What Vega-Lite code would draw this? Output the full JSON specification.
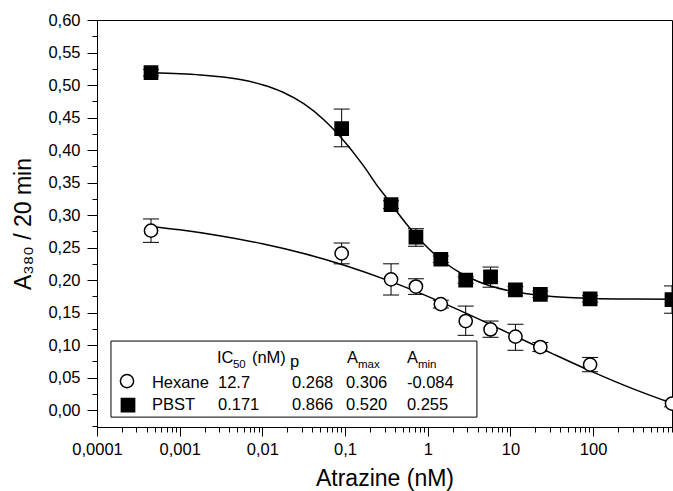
{
  "$schema": "https://vega.github.io/schema/vega-lite/v6.json",
  "width": 575,
  "height": 407,
  "autosize": {"type": "none"},
  "padding": {"left": 97, "top": 20, "right": 1, "bottom": 64},
  "datasets": {
    "points": [
      {"series": "Hexane", "x": 0.00045, "y": 0.276, "lo": 0.258, "hi": 0.294},
      {"series": "Hexane", "x": 0.091, "y": 0.241, "lo": 0.225, "hi": 0.257},
      {"series": "Hexane", "x": 0.36, "y": 0.201, "lo": 0.177, "hi": 0.225},
      {"series": "Hexane", "x": 0.72, "y": 0.190, "lo": 0.178, "hi": 0.202},
      {"series": "Hexane", "x": 1.44, "y": 0.163, "lo": 0.157, "hi": 0.169},
      {"series": "Hexane", "x": 2.88, "y": 0.137, "lo": 0.115, "hi": 0.160},
      {"series": "Hexane", "x": 5.75, "y": 0.124, "lo": 0.112, "hi": 0.137},
      {"series": "Hexane", "x": 11.5, "y": 0.113, "lo": 0.092, "hi": 0.132},
      {"series": "Hexane", "x": 23, "y": 0.097, "lo": 0.090, "hi": 0.104},
      {"series": "Hexane", "x": 92, "y": 0.070, "lo": 0.059, "hi": 0.081},
      {"series": "Hexane", "x": 900, "y": 0.010, "lo": 0.005, "hi": 0.015},
      {"series": "PBST", "x": 0.00045, "y": 0.519, "lo": 0.514, "hi": 0.524},
      {"series": "PBST", "x": 0.091, "y": 0.433, "lo": 0.405, "hi": 0.463},
      {"series": "PBST", "x": 0.36, "y": 0.316, "lo": 0.310, "hi": 0.322},
      {"series": "PBST", "x": 0.72, "y": 0.266, "lo": 0.252, "hi": 0.279},
      {"series": "PBST", "x": 1.44, "y": 0.232, "lo": 0.227, "hi": 0.237},
      {"series": "PBST", "x": 2.88, "y": 0.200, "lo": 0.195, "hi": 0.205},
      {"series": "PBST", "x": 5.75, "y": 0.205, "lo": 0.189, "hi": 0.220},
      {"series": "PBST", "x": 11.5, "y": 0.185, "lo": 0.180, "hi": 0.190},
      {"series": "PBST", "x": 23, "y": 0.178, "lo": 0.173, "hi": 0.183},
      {"series": "PBST", "x": 92, "y": 0.171, "lo": 0.166, "hi": 0.176},
      {"series": "PBST", "x": 900, "y": 0.170, "lo": 0.149, "hi": 0.191}
    ],
    "curves": [
      {"series": "PBST", "x": 0.00045, "y": 0.5187},
      {"series": "PBST", "x": 0.001, "y": 0.5173},
      {"series": "PBST", "x": 0.001778, "y": 0.5155},
      {"series": "PBST", "x": 0.003162, "y": 0.5127},
      {"series": "PBST", "x": 0.005623, "y": 0.508},
      {"series": "PBST", "x": 0.01, "y": 0.5005},
      {"series": "PBST", "x": 0.01778, "y": 0.4889},
      {"series": "PBST", "x": 0.03162, "y": 0.4712},
      {"series": "PBST", "x": 0.05623, "y": 0.4458},
      {"series": "PBST", "x": 0.1, "y": 0.4119},
      {"series": "PBST", "x": 0.1334, "y": 0.3922},
      {"series": "PBST", "x": 0.1778, "y": 0.371},
      {"series": "PBST", "x": 0.2371, "y": 0.3475},
      {"series": "PBST", "x": 0.3162, "y": 0.327},
      {"series": "PBST", "x": 0.4217, "y": 0.3054},
      {"series": "PBST", "x": 0.5623, "y": 0.2851},
      {"series": "PBST", "x": 0.7499, "y": 0.2664},
      {"series": "PBST", "x": 1, "y": 0.2498},
      {"series": "PBST", "x": 1.334, "y": 0.2352},
      {"series": "PBST", "x": 1.778, "y": 0.2228},
      {"series": "PBST", "x": 2.371, "y": 0.2125},
      {"series": "PBST", "x": 3.162, "y": 0.2039},
      {"series": "PBST", "x": 5.623, "y": 0.1912},
      {"series": "PBST", "x": 10, "y": 0.1831},
      {"series": "PBST", "x": 17.78, "y": 0.178},
      {"series": "PBST", "x": 31.62, "y": 0.1749},
      {"series": "PBST", "x": 100, "y": 0.1718},
      {"series": "PBST", "x": 316.2, "y": 0.1707},
      {"series": "PBST", "x": 900, "y": 0.1703},
      {"series": "Hexane", "x": 0.00045, "y": 0.2825},
      {"series": "Hexane", "x": 0.001, "y": 0.2773},
      {"series": "Hexane", "x": 0.003162, "y": 0.2679},
      {"series": "Hexane", "x": 0.01, "y": 0.2559},
      {"series": "Hexane", "x": 0.03162, "y": 0.2409},
      {"series": "Hexane", "x": 0.1, "y": 0.2224},
      {"series": "Hexane", "x": 0.3162, "y": 0.2003},
      {"series": "Hexane", "x": 1, "y": 0.175},
      {"series": "Hexane", "x": 3.162, "y": 0.1469},
      {"series": "Hexane", "x": 10, "y": 0.1172},
      {"series": "Hexane", "x": 31.62, "y": 0.0873},
      {"series": "Hexane", "x": 100, "y": 0.0584},
      {"series": "Hexane", "x": 316.2, "y": 0.0318},
      {"series": "Hexane", "x": 900, "y": 0.0104}
    ],
    "legbox": [
      {"x1": 0.0001476, "x2": 3.936, "y1": -0.0108, "y2": 0.1062}
    ],
    "legsym": [
      {"series": "Hexane", "lx": 0.0002306, "ly": 0.0446},
      {"series": "PBST", "lx": 0.0002371, "ly": 0.0077}
    ],
    "legtext": [
      {"kind": "main", "t": "IC", "lx": 0.002825, "ly": 0.0723},
      {"kind": "main", "t": "(nM)", "lx": 0.007482, "ly": 0.0723},
      {"kind": "main", "t": "p", "lx": 0.02158, "ly": 0.0662},
      {"kind": "main", "t": "A", "lx": 0.1054, "ly": 0.0723},
      {"kind": "main", "t": "A", "lx": 0.5598, "ly": 0.0723},
      {"kind": "main", "t": "Hexane", "lx": 0.000462, "ly": 0.0338},
      {"kind": "main", "t": "12.7", "lx": 0.002904, "ly": 0.0338},
      {"kind": "main", "t": "0.268", "lx": 0.02281, "ly": 0.0338},
      {"kind": "main", "t": "0.306", "lx": 0.1026, "ly": 0.0338},
      {"kind": "main", "t": "-0.084", "lx": 0.5598, "ly": 0.0338},
      {"kind": "main", "t": "PBST", "lx": 0.000462, "ly": 0.0},
      {"kind": "main", "t": "0.171", "lx": 0.002904, "ly": 0.0},
      {"kind": "main", "t": "0.866", "lx": 0.02281, "ly": 0.0},
      {"kind": "main", "t": "0.520", "lx": 0.1026, "ly": 0.0},
      {"kind": "main", "t": "0.255", "lx": 0.5598, "ly": 0.0},
      {"kind": "sub", "t": "50", "lx": 0.004409, "ly": 0.0646},
      {"kind": "sub", "t": "max", "lx": 0.1432, "ly": 0.0646},
      {"kind": "sub", "t": "min", "lx": 0.7603, "ly": 0.0646}
    ]
  },
  "layer": [
    {
      "data": {"name": "legbox"},
      "mark": {"type": "rect", "fill": "white", "stroke": "black", "strokeWidth": 1},
      "encoding": {
        "x": {"field": "x1", "type": "quantitative", "scale": {"type": "log", "domain": [0.0001, 900], "nice": false}, "axis": null},
        "x2": {"field": "x2"},
        "y": {"field": "y1", "type": "quantitative", "scale": {"domain": [-0.026, 0.6], "nice": false, "zero": false}, "axis": null},
        "y2": {"field": "y2"}
      }
    },
    {
      "data": {"name": "points"},
      "mark": {"type": "rule", "color": "black", "strokeWidth": 1},
      "encoding": {
        "x": {"field": "x", "type": "quantitative", "scale": {"type": "log", "domain": [0.0001, 900], "nice": false}, "axis": null},
        "y": {"field": "lo", "type": "quantitative", "scale": {"domain": [-0.026, 0.6], "nice": false, "zero": false}, "axis": null},
        "y2": {"field": "hi"}
      }
    },
    {
      "data": {"name": "points"},
      "mark": {"type": "tick", "orient": "horizontal", "size": 16, "thickness": 1, "color": "black", "opacity": 1},
      "encoding": {
        "x": {"field": "x", "type": "quantitative", "scale": {"type": "log", "domain": [0.0001, 900], "nice": false}, "axis": null},
        "y": {"field": "lo", "type": "quantitative", "scale": {"domain": [-0.026, 0.6], "nice": false, "zero": false}, "axis": null}
      }
    },
    {
      "data": {"name": "points"},
      "mark": {"type": "tick", "orient": "horizontal", "size": 16, "thickness": 1, "color": "black", "opacity": 1},
      "encoding": {
        "x": {"field": "x", "type": "quantitative", "scale": {"type": "log", "domain": [0.0001, 900], "nice": false}, "axis": null},
        "y": {"field": "hi", "type": "quantitative", "scale": {"domain": [-0.026, 0.6], "nice": false, "zero": false}, "axis": null}
      }
    },
    {
      "data": {"name": "curves"},
      "mark": {"type": "line", "color": "black", "strokeWidth": 1.5, "interpolate": "monotone"},
      "encoding": {
        "x": {
          "field": "x", "type": "quantitative",
          "scale": {"type": "log", "domain": [0.0001, 900], "nice": false},
          "axis": {
            "orient": "bottom",
            "values": [0.0001, 0.001, 0.01, 0.1, 1, 10, 100],
            "labelExpr": "replace(format(datum.value, '~g'), '.', ',')",
            "tickSize": 9,
            "labelPadding": 5,
            "title": "Atrazine (nM)",
            "titlePadding": 10,
            "grid": false,
            "domain": true,
            "labelFlush": false,
            "labelOverlap": false
          }
        },
        "y": {
          "field": "y", "type": "quantitative",
          "scale": {"domain": [-0.026, 0.6], "nice": false, "zero": false},
          "axis": {
            "orient": "left",
            "values": [0, 0.05, 0.1, 0.15, 0.2, 0.25, 0.3, 0.35, 0.4, 0.45, 0.5, 0.55, 0.6],
            "labelExpr": "replace(format(datum.value, '.2f'), '.', ',')",
            "tickSize": 10,
            "labelPadding": 7,
            "title": "A₃₈₀ / 20 min",
            "titlePadding": 12,
            "grid": false,
            "domain": true,
            "labelFlush": false,
            "labelOverlap": false
          }
        },
        "detail": {"field": "series"}
      }
    },
    {
      "data": {"name": "points"},
      "mark": {"type": "point", "size": 175, "strokeWidth": 1.5, "opacity": 1, "fillOpacity": 1},
      "encoding": {
        "x": {
          "field": "x", "type": "quantitative",
          "scale": {"type": "log", "domain": [0.0001, 900], "nice": false},
          "axis": {
            "orient": "bottom",
            "values": [0.0002, 0.0003, 0.0004, 0.0005, 0.0006, 0.0007, 0.0008, 0.0009, 0.002, 0.003, 0.004, 0.005, 0.006, 0.007, 0.008, 0.009, 0.02, 0.03, 0.04, 0.05, 0.06, 0.07, 0.08, 0.09, 0.2, 0.3, 0.4, 0.5, 0.6, 0.7, 0.8, 0.9, 2, 3, 4, 5, 6, 7, 8, 9, 20, 30, 40, 50, 60, 70, 80, 90, 200, 300, 400, 500, 600, 700, 800, 900],
            "labels": false,
            "tickSize": 5,
            "title": null,
            "grid": false,
            "domain": false
          }
        },
        "y": {
          "field": "y", "type": "quantitative",
          "scale": {"domain": [-0.026, 0.6], "nice": false, "zero": false},
          "axis": {
            "orient": "left",
            "values": [-0.025, 0.025, 0.075, 0.125, 0.175, 0.225, 0.275, 0.325, 0.375, 0.425, 0.475, 0.525, 0.575],
            "labels": false,
            "tickSize": 5,
            "title": null,
            "grid": false,
            "domain": false
          }
        },
        "shape": {"field": "series", "type": "nominal", "scale": {"domain": ["Hexane", "PBST"], "range": ["circle", "square"]}, "legend": null},
        "fill": {"field": "series", "type": "nominal", "scale": {"domain": ["Hexane", "PBST"], "range": ["white", "black"]}, "legend": null},
        "stroke": {"value": "black"}
      }
    },
    {
      "data": {"name": "legsym"},
      "mark": {"type": "point", "size": 175, "strokeWidth": 1.5, "opacity": 1, "fillOpacity": 1},
      "encoding": {
        "x": {"field": "lx", "type": "quantitative", "scale": {"type": "log", "domain": [0.0001, 900], "nice": false}, "axis": null},
        "y": {"field": "ly", "type": "quantitative", "scale": {"domain": [-0.026, 0.6], "nice": false, "zero": false}, "axis": null},
        "shape": {"field": "series", "type": "nominal", "scale": {"domain": ["Hexane", "PBST"], "range": ["circle", "square"]}, "legend": null},
        "fill": {"field": "series", "type": "nominal", "scale": {"domain": ["Hexane", "PBST"], "range": ["white", "black"]}, "legend": null},
        "stroke": {"value": "black"}
      }
    },
    {
      "data": {"name": "legtext"},
      "transform": [{"filter": "datum.kind === 'main'"}],
      "mark": {"type": "text", "align": "left", "baseline": "alphabetic", "fontSize": 16.5, "font": "Liberation Sans", "color": "black"},
      "encoding": {
        "x": {"field": "lx", "type": "quantitative", "scale": {"type": "log", "domain": [0.0001, 900], "nice": false}, "axis": null},
        "y": {"field": "ly", "type": "quantitative", "scale": {"domain": [-0.026, 0.6], "nice": false, "zero": false}, "axis": null},
        "text": {"field": "t"}
      }
    },
    {
      "data": {"name": "legtext"},
      "transform": [{"filter": "datum.kind === 'sub'"}],
      "mark": {"type": "text", "align": "left", "baseline": "alphabetic", "fontSize": 11.5, "font": "Liberation Sans", "color": "black"},
      "encoding": {
        "x": {"field": "lx", "type": "quantitative", "scale": {"type": "log", "domain": [0.0001, 900], "nice": false}, "axis": null},
        "y": {"field": "ly", "type": "quantitative", "scale": {"domain": [-0.026, 0.6], "nice": false, "zero": false}, "axis": null},
        "text": {"field": "t"}
      }
    }
  ],
  "resolve": {"axis": {"x": "independent", "y": "independent"}},
  "config": {
    "view": {"stroke": "black", "strokeWidth": 1},
    "font": "Liberation Sans",
    "axis": {
      "labelFont": "Liberation Sans",
      "titleFont": "Liberation Sans",
      "labelFontSize": 16.5,
      "titleFontSize": 23,
      "titleFontWeight": "normal",
      "labelColor": "black",
      "titleColor": "black",
      "tickColor": "black",
      "domainColor": "black",
      "tickWidth": 1,
      "domainWidth": 1
    }
  }
}
